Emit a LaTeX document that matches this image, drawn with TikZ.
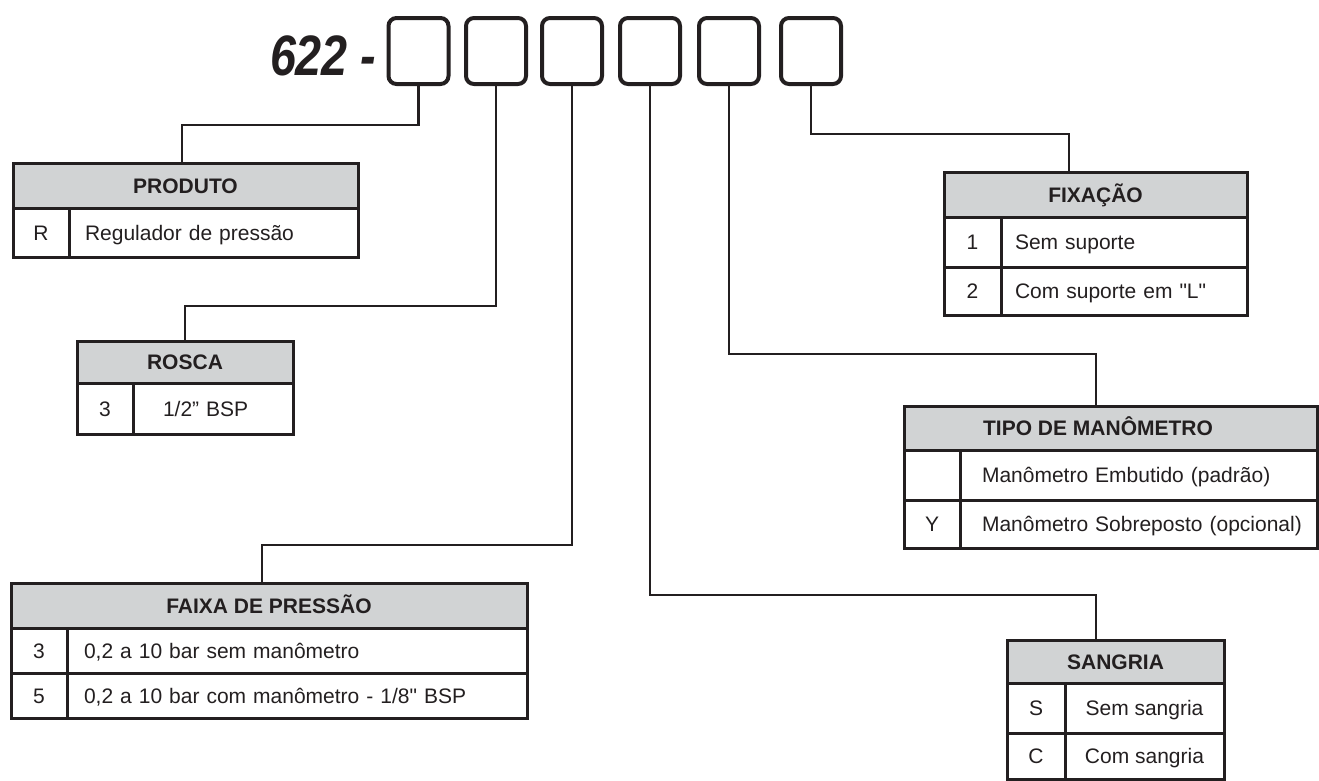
\documentclass[tikz,border=0pt]{standalone}
\usepackage{fontspec}
\setmainfont{Liberation Sans}[Ligatures=TeXOff]
\definecolor{ink}{HTML}{231F20}
\definecolor{hdr}{HTML}{D1D3D4}
\begin{document}
\begin{tikzpicture}[x=1pt,y=-1pt,
  every node/.style={inner sep=0pt, outer sep=0pt, text=ink},
  digit/.style={draw=ink, line width=4pt, rounded corners=8pt, minimum width=60pt, minimum height=66pt},
  hdrbox/.style={draw=ink, fill=hdr, line width=3pt, anchor=north west,
    font=\fontsize{21}{25}\selectfont\bfseries, text height=15pt, text depth=0pt},
  hdrtext/.style={font=\fontsize{21}{25}\selectfont\bfseries, text height=15pt, text depth=0pt},
  cell/.style={draw=ink, line width=3pt, anchor=north west,
    font=\fontsize{21}{25}\selectfont, text height=15pt, text depth=0pt},
  lcell/.style={cell, align=left, inner xsep=0pt},
  wire/.style={draw=ink, line width=2.5pt},
]
\useasboundingbox (0,0) rectangle (1319,780);

% code
\node[anchor=base west, font=\fontsize{57}{57}\selectfont\bfseries\itshape] (code) at (270,75)
  {\scalebox{0.82}[1]{622 -}};
\node[digit] (b1) at (418.5,51) {};
\node[digit] (b2) at (496,51) {};
\node[digit] (b3) at (572,51) {};
\node[digit] (b4) at (650,51) {};
\node[digit] (b5) at (729,51) {};
\node[digit] (b6) at (811,51) {};

% PRODUTO
\node[hdrbox, minimum width=345pt, minimum height=45pt] (hprod) at (13,163) {PRODUTO};
\node[cell, minimum width=56pt, minimum height=49pt] (kprod1) at (13,208) {R};
\node[lcell, minimum width=289pt, minimum height=49pt, text width=289pt] (vprod1) at (69,208) {\hspace*{16pt}Regulador de pressão};

% ROSCA
\node[hdrbox, minimum width=216pt, minimum height=42pt] (hros) at (77,341) {ROSCA};
\node[cell, minimum width=56pt, minimum height=51pt] (kros1) at (77,383) {3};
\node[lcell, minimum width=160pt, minimum height=51pt, text width=160pt] (vros1) at (133,383) {\hspace*{30pt}1/2” BSP};

% FAIXA DE PRESSAO
\node[hdrbox, minimum width=516pt, minimum height=45pt] (hfai) at (11,583) {FAIXA DE PRESSÃO};
\node[cell, minimum width=56pt, minimum height=45pt] (kfai1) at (11,628) {3};
\node[cell, minimum width=56pt, minimum height=45pt] (kfai2) at (11,673) {5};
\node[lcell, minimum width=460pt, minimum height=45pt, text width=460pt] (vfai1) at (67,628) {\hspace*{17pt}0,2 a 10 bar sem manômetro};
\node[lcell, minimum width=460pt, minimum height=45pt, text width=460pt] (vfai2) at (67,673) {\hspace*{17pt}0,2 a 10 bar com manômetro - 1/8" BSP};

% FIXACAO
\node[hdrbox, minimum width=303pt, minimum height=45pt] (hfix) at (944,172) {FIXAÇÃO};
\node[cell, minimum width=57pt, minimum height=50pt] (kfix1) at (944,217) {1};
\node[cell, minimum width=57pt, minimum height=48pt] (kfix2) at (944,267) {2};
\node[lcell, minimum width=246pt, minimum height=50pt, text width=246pt] (vfix1) at (1001,217) {\hspace*{14pt}Sem suporte};
\node[lcell, minimum width=246pt, minimum height=48pt, text width=246pt] (vfix2) at (1001,267) {\hspace*{14pt}Com suporte em "L"};

% TIPO DE MANOMETRO
\node[hdrbox, minimum width=413pt, minimum height=44pt] (htip) at (904,406) {};
\node[hdrtext] (ttip) at (1098,428) {TIPO DE MANÔMETRO};
\node[cell, minimum width=56pt, minimum height=50pt] (ktip1) at (904,450) {};
\node[cell, minimum width=56pt, minimum height=48pt] (ktip2) at (904,500) {Y};
\node[lcell, minimum width=357pt, minimum height=50pt, text width=357pt] (vtip1) at (960,450) {\hspace*{22pt}Manômetro Embutido (padrão)};
\node[lcell, minimum width=357pt, minimum height=48pt, text width=357pt] (vtip2) at (960,500) {\hspace*{22pt}Manômetro Sobreposto (opcional)};

% SANGRIA
\node[hdrbox, minimum width=217pt, minimum height=43pt] (hsan) at (1007,640) {SANGRIA};
\node[cell, minimum width=58pt, minimum height=50pt] (ksan1) at (1007,683) {S};
\node[cell, minimum width=58pt, minimum height=46pt] (ksan2) at (1007,733) {C};
\node[cell, minimum width=159pt, minimum height=50pt] (vsan1) at (1065,683) {Sem sangria};
\node[cell, minimum width=159pt, minimum height=46pt] (vsan2) at (1065,733) {Com sangria};

% connector end points
\coordinate (e1) at ([xshift=169pt]hprod.north west);
\coordinate (e2) at ([xshift=108pt]hros.north west);
\coordinate (e3) at ([xshift=251pt]hfai.north west);
\coordinate (e4) at ([xshift=89pt]hsan.north west);
\coordinate (e5) at ([xshift=192pt]htip.north west);
\coordinate (e6) at ([xshift=125pt]hfix.north west);

\draw[wire] (b1.south) -- ++(0,41) -| (e1);
\draw[wire] (b2.south) -- ++(0,222) -| (e2);
\draw[wire] (b3.south) -- ++(0,461) -| (e3);
\draw[wire] (b4.south) -- ++(0,511) -| (e4);
\draw[wire] (b5.south) -- ++(0,270) -| (e5);
\draw[wire] (b6.south) -- ++(0,50) -| (e6);
\end{tikzpicture}
\end{document}
